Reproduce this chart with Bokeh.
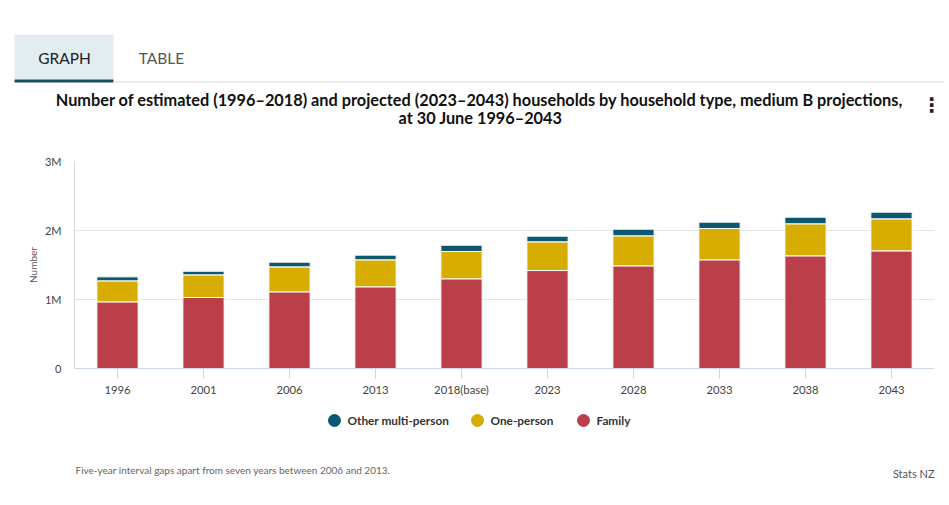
from bokeh.plotting import figure
from bokeh.layouts import column
from bokeh.models import ColumnDataSource, FactorRange, Range1d, FixedTicker
from bokeh.core.properties import value
from bokeh.embed import file_html
from bokeh.resources import INLINE

# ---- data ----
years = ["1996", "2001", "2006", "2013", "2018(base)", "2023", "2028", "2033", "2038", "2043"]
family = [966000, 1029000, 1111000, 1184000, 1300000, 1420000, 1488000, 1575000, 1633000, 1705000]
one_person = [304000, 328000, 362000, 391000, 396000, 416000, 435000, 454000, 464000, 464000]
other_multi = [58000, 53000, 68000, 68000, 91000, 82000, 96000, 92000, 96000, 97000]
series_keys = ["family", "one_person", "other_multi"]
series_names = ["Family", "One-person", "Other multi-person"]
series_colors = ["#bb3f4b", "#d6ad00", "#0c5870"]
y_ticks = [0, 1000000, 2000000, 3000000]
y_tick_labels = ["0", "1M", "2M", "3M"]

title_line1 = "Number of estimated (1996\u20132018) and projected (2023\u20132043) households by household type, medium B projections,"
title_line2 = "at 30 June 1996\u20132043"
footnote = "Five-year interval gaps apart from seven years between 2006 and 2013."
credit = "Stats NZ"
tabs = ["GRAPH", "TABLE"]

W = 945
HEAD_H, MAIN_H, FOOT_H = 140, 260, 100
FONT = "Lato"


def blank(h):
    f = figure(width=W, height=h, x_range=Range1d(0, W), y_range=Range1d(h, 0),
               output_backend="svg", toolbar_location=None, frame_align=False,
               min_border_left=0, min_border_right=0, min_border_top=0, min_border_bottom=0)
    f.axis.visible = False
    f.grid.visible = False
    f.outline_line_color = None
    f.background_fill_color = "white"
    f.border_fill_color = "white"
    return f


def txt(f, s, x, y, size, color, style="normal", align="left", font=FONT):
    f.text(x=[x], y=[y], text=[s], text_font=value(font), text_font_size=size,
           text_color=color, text_font_style=style, text_align=align, text_baseline="middle")


# ---- header: tabs, title, menu ----
head = blank(HEAD_H)
head.quad(left=[14], right=[113], top=[34], bottom=[79], fill_color="#e2edf2", line_color=None)
head.quad(left=[14], right=[113], top=[79], bottom=[82], fill_color="#1d4f66", line_color=None)
head.quad(left=[113], right=[944], top=[81], bottom=[82], fill_color="#dddddd", line_color=None)
txt(head, tabs[0], 64, 57, "15.5px", "#222222", align="center")
txt(head, tabs[1], 161, 57, "15.5px", "#555555", align="center")
txt(head, title_line1, 479, 99, "16.3px", "#111111", style="bold", align="center")
txt(head, title_line2, 480, 117, "16.3px", "#111111", style="bold", align="center")
txt(head, "\u22ee", 931, 104, "20px", "#222222", style="bold", align="center", font="DejaVu Sans")

# ---- main chart ----
p = figure(x_range=FactorRange(*years), y_range=Range1d(0, 3000000),
           width=W, height=MAIN_H, output_backend="svg", toolbar_location=None, frame_align=False,
           min_border_left=74, min_border_right=W - 934, min_border_top=21, min_border_bottom=32)
p.outline_line_color = None
p.background_fill_color = "white"
p.border_fill_color = "white"

source = ColumnDataSource(dict(years=years, family=family, one_person=one_person, other_multi=other_multi))
p.vbar_stack(series_keys, x="years", width=0.48, fill_color=series_colors,
             line_color="white", line_width=1, source=source)

p.xgrid.grid_line_color = None
p.ygrid.grid_line_color = "#e6e6e6"
p.yaxis.ticker = FixedTicker(ticks=y_ticks)
p.yaxis.major_label_overrides = {t: l for t, l in zip(y_ticks, y_tick_labels)}
p.yaxis.major_tick_line_color = None
p.yaxis.minor_tick_line_color = None
p.yaxis.major_tick_out = 0
p.yaxis.major_label_standoff = 13
p.yaxis.axis_line_color = "#d5dae2"
p.yaxis.major_label_text_font = FONT
p.yaxis.major_label_text_font_size = "11px"
p.yaxis.major_label_text_color = "#444444"
p.yaxis.axis_label = "Number"
p.yaxis.axis_label_text_font = FONT
p.yaxis.axis_label_text_font_size = "10px"
p.yaxis.axis_label_text_font_style = "normal"
p.yaxis.axis_label_text_color = "#555555"
p.yaxis.axis_label_standoff = 3

p.xaxis.axis_line_color = "#ccd6eb"
p.xaxis.major_tick_line_color = "#ccd6eb"
p.xaxis.major_tick_out = 10
p.xaxis.major_tick_in = 0
p.xaxis.major_label_standoff = 4
p.xaxis.major_label_text_font = FONT
p.xaxis.major_label_text_font_size = "11.3px"
p.xaxis.major_label_text_color = "#444444"

# ---- footer: legend (drawn as circles + labels) and notes ----
foot = blank(FOOT_H)
legend_order = [2, 1, 0]            # Other multi-person, One-person, Family
legend_dot_x = [334, 477, 583]
legend_y = 20
for pos, i in zip(legend_dot_x, legend_order):
    foot.scatter(x=[pos], y=[legend_y], marker="circle", size=12,
                 fill_color=series_colors[i], line_color=series_colors[i])
    txt(foot, series_names[i], pos + 13, legend_y, "11.8px", "#333333", style="bold")
txt(foot, footnote, 75, 69, "10px", "#666666")
txt(foot, credit, 934, 73, "11px", "#555555", align="right")

layout = column(head, p, foot, spacing=0)
open("out.html", "w").write(file_html(layout, INLINE))
